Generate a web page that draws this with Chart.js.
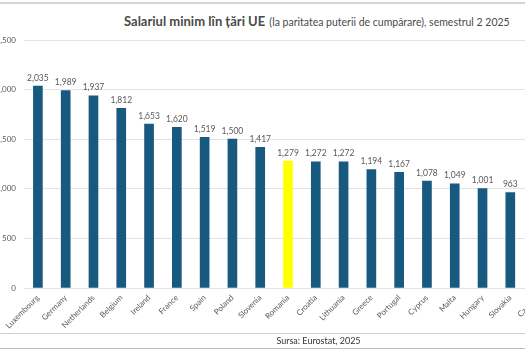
<!DOCTYPE html>
<html>
<head>
<meta charset="utf-8">
<script src="https://cdn.jsdelivr.net/npm/chart.js@4/dist/chart.umd.min.js"></script>
<style>
  html, body { margin: 0; padding: 0; background: #fff; }
  #page { position: relative; width: 525px; height: 350px; overflow: hidden; background: #fff; }
  #topline { position: absolute; left: 0; top: 2px; width: 525px; height: 0; border-top: 2px solid #d4d4d4; }
  #title { position: absolute; left: 0; top: 10px; width: 525px; text-align: left; padding-left: 124px; box-sizing: border-box;
           font-family: Lato, "Open Sans", sans-serif; color: #4a4a4a; white-space: nowrap; }
  #title b { font-size: 13px; font-weight: 700; }
  #title span { font-size: 10.5px; }
  #chartwrap { position: absolute; left: 0; top: 0; }
  #srcline1 { position: absolute; left: 0; top: 333px; width: 525px; border-top: 1px solid #cfcfcf; }
  #srcline2 { position: absolute; left: 0; top: 348px; width: 525px; border-top: 1px solid #bdbdbd; }
  #source { position: absolute; left: 0; top: 334px; width: 637px; text-align: center; font-family: Lato, sans-serif;
            font-size: 9px; color: #333; line-height: 14px; }
</style>
</head>
<body>
<div id="page">
  <div id="topline"></div>
  <div id="title"><b>Salariul minim lîn țări UE</b> <span>(la paritatea puterii de cumpărare), semestrul 2 2025</span></div>
  <div id="chartwrap"><canvas id="c" width="552" height="350"></canvas></div>
  <div id="srcline1"></div>
  <div id="source">Sursa: Eurostat, 2025</div>
  <div id="srcline2"></div>
</div>
<script>
const countries = ["Luxembourg","Germany","Netherlands","Belgium","Ireland","France","Spain","Poland","Slovenia","Romania","Croatia","Lithuania","Greece","Portugal","Cyprus","Malta","Hungary","Slovakia","Czechia"];
const wages = [2035,1989,1937,1812,1653,1620,1519,1500,1417,1279,1272,1272,1194,1167,1078,1049,1001,963,950];
const yTicks = [0,500,1000,1500,2000,2500];
const highlight = "Romania";

const barColors = countries.map(c => c === highlight ? "#FFFF00" : "#17597F");

const valueLabels = {
  id: "valueLabels",
  afterDatasetsDraw(chart) {
    const ctx = chart.ctx;
    const meta = chart.getDatasetMeta(0);
    ctx.save();
    ctx.font = "8.5px Lato, 'Open Sans', sans-serif";
    ctx.fillStyle = "#595959";
    ctx.textAlign = "center";
    ctx.textBaseline = "bottom";
    meta.data.forEach((bar, i) => {
      ctx.fillText(wages[i].toLocaleString("en-US"), bar.x, bar.y - 4);
    });
    ctx.restore();
  }
};

new Chart(document.getElementById("c"), {
  type: "bar",
  data: {
    labels: countries,
    datasets: [{
      data: wages,
      backgroundColor: barColors,
      borderWidth: 0,
      barThickness: 9
    }]
  },
  options: {
    responsive: false,
    animation: false,
    layout: { padding: { top: 40, left: 0, right: 0, bottom: 0 } },
    plugins: { legend: { display: false }, tooltip: { enabled: false }, title: { display: false } },
    scales: {
      x: {
        grid: { display: false, drawTicks: false },
        border: { display: false },
        ticks: {
          autoSkip: false, minRotation: 45, maxRotation: 45, padding: 5,
          color: "#595959", font: { family: "Lato, 'Open Sans', sans-serif", size: 8 }
        },
        afterFit(scale) { scale.height = 62; }
      },
      y: {
        min: 0, max: 2500,
        afterBuildTicks(scale) { scale.ticks = yTicks.map(v => ({ value: v })); },
        grid: { color: "#e3e3e3", drawTicks: false },
        border: { display: false },
        ticks: {
          padding: 8, color: "#595959",
          font: { family: "Lato, 'Open Sans', sans-serif", size: 8 },
          callback: v => v.toLocaleString("en-US")
        },
        afterFit(scale) { scale.width = 24; }
      }
    }
  },
  plugins: [valueLabels]
});
</script>
</body>
</html>
